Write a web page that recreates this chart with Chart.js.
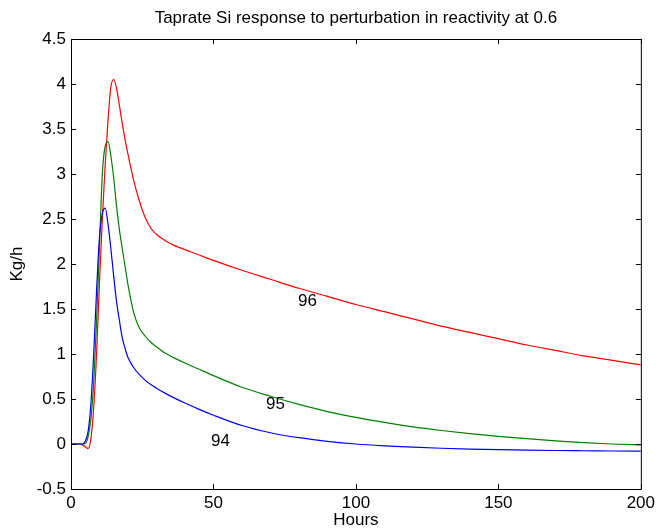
<!DOCTYPE html>
<html>
<head>
  <meta charset="UTF-8">
  <title>Taprate Si response</title>
  <script src="https://cdn.jsdelivr.net/npm/chart.js"></script>
  <style>
    body { margin: 0; background: #fff; }
    #wrap { width: 659px; height: 531px; }
  </style>
</head>
<body>
<div id="wrap"><canvas id="taprateChart"></canvas></div>

<script>
  // hours sampled along the curves
  var hours = [0, 3, 4, 5, 6, 7, 8, 9, 10, 11, 12, 13, 14, 15, 16, 17, 18, 19, 20, 22, 24, 26, 28, 30, 33, 36, 40, 45, 50,
               60, 70, 80, 90, 100, 110, 120, 130, 140, 150, 160, 170, 180, 190, 200];

  var run94 = [0, 0, 0, 0.03, 0.14, 0.45, 1.02, 1.72, 2.3, 2.56, 2.62, 2.44, 2.17, 1.86, 1.58, 1.37, 1.18, 1.06, 0.96, 0.85, 0.77, 0.71, 0.66, 0.62, 0.565, 0.515, 0.455, 0.385, 0.32,
               0.205, 0.125, 0.07, 0.03, 0.0, -0.02, -0.035, -0.047, -0.056, -0.063, -0.068, -0.072, -0.075, -0.078, -0.08];

  var run95 = [0, 0, 0, 0.005, 0.08, 0.28, 0.7, 1.39, 2.2, 3.0, 3.31, 3.36, 3.2, 2.95, 2.64, 2.38, 2.17, 1.97, 1.77, 1.46, 1.29, 1.2, 1.13, 1.08, 1.01, 0.96, 0.9, 0.83, 0.76,
               0.63, 0.53, 0.44, 0.36, 0.295, 0.24, 0.19, 0.15, 0.115, 0.085, 0.06, 0.035, 0.015, 0.0, -0.01];

  var run96 = [0, 0, -0.01, -0.03, -0.05, 0.06, 0.42, 1.02, 1.8, 2.5, 3.1, 3.6, 3.97, 4.05, 3.95, 3.76, 3.56, 3.38, 3.22, 2.93, 2.7, 2.52, 2.4, 2.33, 2.26, 2.21, 2.16, 2.1, 2.04,
               1.93, 1.83, 1.73, 1.64, 1.55, 1.47, 1.39, 1.31, 1.24, 1.17, 1.1, 1.04, 0.98, 0.93, 0.88];

  // in-plot curve labels
  var labelText = ['94', '95', '96'];
  var labelHours = [52.5, 71.8, 83];
  var labelValues = [0.03, 0.44, 1.59];

  var FONT = '"Liberation Sans", Arial, sans-serif';

  function pairs(ys) {
    return hours.map(function(h, i) { return {x: h, y: ys[i]}; });
  }

  // box frame, inward ticks, and curve labels
  var matlabBox = {
    id: 'matlabBox',
    afterDatasetsDraw: function(chart) {
      var ctx = chart.ctx, a = chart.chartArea;
      var xs = chart.scales.x, ys = chart.scales.y;
      ctx.save();
      ctx.strokeStyle = '#000';
      ctx.lineWidth = 1;
      ctx.strokeRect(a.left + 0.5, a.top + 0.5, a.right - a.left, a.bottom - a.top);
      ctx.beginPath();
      xs.ticks.forEach(function(t) {
        var px = Math.round(xs.getPixelForValue(t.value)) + 0.5;
        ctx.moveTo(px, a.bottom); ctx.lineTo(px, a.bottom - 5);
        ctx.moveTo(px, a.top); ctx.lineTo(px, a.top + 5);
      });
      ys.ticks.forEach(function(t) {
        var py = Math.round(ys.getPixelForValue(t.value)) + 0.5;
        ctx.moveTo(a.left, py); ctx.lineTo(a.left + 5, py);
        ctx.moveTo(a.right, py); ctx.lineTo(a.right - 5, py);
      });
      ctx.stroke();

      ctx.fillStyle = '#000';
      ctx.font = '17px ' + FONT;
      ctx.textAlign = 'center';
      ctx.textBaseline = 'middle';
      labelText.forEach(function(txt, i) {
        ctx.fillText(txt, xs.getPixelForValue(labelHours[i]), ys.getPixelForValue(labelValues[i]));
      });
      ctx.restore();
    }
  };

  var ctx = document.getElementById('taprateChart').getContext('2d');
  var chart = new Chart(ctx, {
    type: 'line',
    data: {
      datasets: [
        { label: '94', data: pairs(run94), borderColor: '#0000ff' },
        { label: '95', data: pairs(run95), borderColor: '#008000' },
        { label: '96', data: pairs(run96), borderColor: '#ff0000' }
      ]
    },
    options: {
      responsive: true,
      maintainAspectRatio: false,
      animation: false,
      parsing: false,
      elements: {
        point: { radius: 0 },
        line: { borderWidth: 1.2, cubicInterpolationMode: 'monotone', fill: false }
      },
      layout: { padding: { left: 0, right: 17, top: 0, bottom: 0 } },
      plugins: {
        legend: { display: false },
        tooltip: { enabled: false },
        title: {
          display: true,
          fullSize: false,
          text: 'Taprate Si response to perturbation in reactivity at 0.6',
          color: '#000',
          font: { family: FONT, size: 17, weight: 'normal', lineHeight: 1.2 },
          padding: { top: 8, bottom: 10.6 }
        }
      },
      scales: {
        x: {
          type: 'linear',
          min: 0, max: 200,
          grid: { display: false, drawTicks: false },
          border: { display: false },
          ticks: { stepSize: 50, color: '#000', padding: 4, font: { family: FONT, size: 17 } },
          title: { display: true, text: 'Hours', color: '#000', padding: 0, font: { family: FONT, size: 17 } },
          afterFit: function(s) { s.height = 42; }
        },
        y: {
          min: -0.5, max: 4.5,
          grid: { display: false, drawTicks: false },
          border: { display: false },
          ticks: {
            stepSize: 0.5, color: '#000', padding: 5, font: { family: FONT, size: 17 },
            callback: function(v) { return String(Math.round(v * 10) / 10); }
          },
          title: { display: true, text: 'Kg/h', color: '#000', padding: { top: 7, bottom: 0 }, font: { family: FONT, size: 17 } },
          afterFit: function(s) { s.width = 71; }
        }
      }
    },
    plugins: [matlabBox]
  });
</script>
</body>
</html>
